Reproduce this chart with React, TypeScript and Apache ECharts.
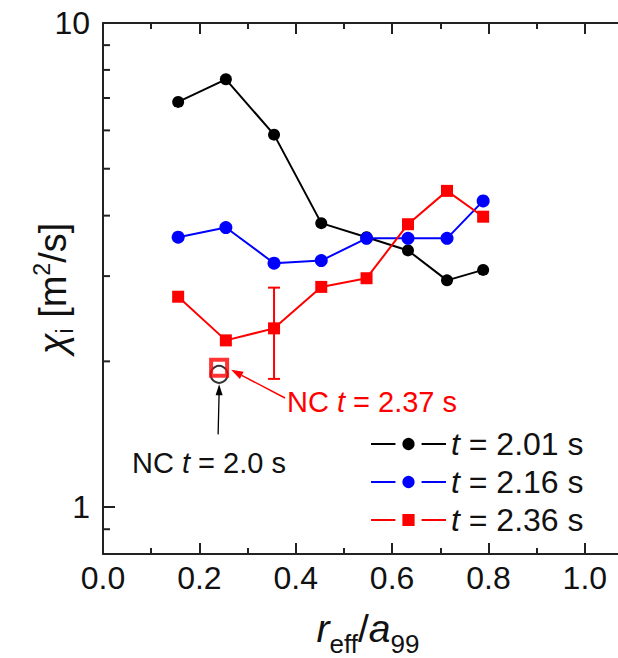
import { useEffect, useRef } from 'react';
import * as echarts from 'echarts';

const rPositions = [0.156, 0.255, 0.355, 0.453, 0.547, 0.633, 0.714, 0.789];
const chiT201 = [6.87, 7.65, 5.88, 3.86, 3.61, 3.39, 2.94, 3.09];
const chiT216 = [3.61, 3.78, 3.19, 3.23, 3.59, 3.59, 3.59, 4.29];
const chiT236 = [2.72, 2.21, 2.34, 2.85, 2.97, 3.84, 4.5, 3.98];
const seriesNames = ['t = 2.01 s', 't = 2.16 s', 't = 2.36 s'];
const seriesColors = ['#000000', '#0000ff', '#ff0000'];
const errorBar = [[0.355, 1.84, 2.84]];
const ncT20 = [[0.241, 1.88]];
const ncT237 = [[0.241, 1.94]];
const yMinorTickValues = [0.9, 2, 3, 4, 5, 6, 7, 8, 9];

const FONT = 'Liberation Sans, Arial, sans-serif';
const FS = 32;
const FT = 32;
const FN = 29;
const AXIS = '#222222';

export default function App() {
  const ref = useRef<HTMLDivElement>(null);
  useEffect(() => {
    const chart = echarts.init(ref.current!, undefined, { renderer: 'svg' });
    const seriesData = [chiT201, chiT216, chiT236];
    const lineSeries = seriesData.map((vals, i) => ({
      name: seriesNames[i],
      type: 'line',
      data: vals.map((v, j) => [rPositions[j], v]),
      symbol: i === 2 ? 'rect' : 'circle',
      symbolSize: i === 1 ? 13 : 12,
      lineStyle: { color: seriesColors[i], width: 2 },
      itemStyle: { color: seriesColors[i] },
      z: 3 + i,
    }));
    const xAxisBase = {
      type: 'value',
      min: 0,
      max: 1.1,
      interval: 0.2,
      axisLine: { show: true, lineStyle: { color: AXIS, width: 2 } },
      axisTick: { show: true, inside: true, length: 11, lineStyle: { color: AXIS, width: 2 } },
      minorTick: { show: true, splitNumber: 2, length: 6, lineStyle: { color: AXIS, width: 2 } },
      splitLine: { show: false },
      minorSplitLine: { show: false },
    };
    chart.setOption({
      animation: false,
      backgroundColor: '#ffffff',
      grid: { left: 103, right: 0, top: 23, bottom: 104, containLabel: false, outerBoundsMode: 'none' },
      legend: {
        data: seriesNames,
        orient: 'vertical',
        left: 365,
        top: 423,
        itemWidth: 75,
        itemHeight: 24,
        itemGap: 6,
        selectedMode: false,
        itemStyle: { borderColor: '#ffffff', borderWidth: 7 },
        formatter: (name: string) => `{i|t}{n|${name.slice(1)}}`,
        textStyle: {
          rich: {
            i: { fontFamily: FONT, fontSize: FT, fontStyle: 'italic', color: '#111', lineHeight: 32 },
            n: { fontFamily: FONT, fontSize: FT, color: '#111', lineHeight: 32 },
          },
        },
      },
      xAxis: [
        {
          ...xAxisBase,
          position: 'bottom',
          name: '{i|r}{s|eff}{n|/}{i|a}{s|99}',
          nameLocation: 'middle',
          nameGap: 55,
          nameMoveOverlap: false,
          nameTextStyle: {
            rich: {
              i: { fontFamily: FONT, fontSize: 39, fontStyle: 'italic', color: '#111', verticalAlign: 'top', lineHeight: 48 },
              n: { fontFamily: FONT, fontSize: 39, color: '#111', verticalAlign: 'top', lineHeight: 48 },
              s: { fontFamily: FONT, fontSize: 26, color: '#111', verticalAlign: 'bottom', lineHeight: 48 },
            },
          },
          axisLabel: {
            show: true,
            showMaxLabel: false,
            margin: 8,
            fontFamily: FONT,
            fontSize: FS,
            color: '#111',
            formatter: (v: number) => v.toFixed(1),
          },
        },
        {
          ...xAxisBase,
          position: 'top',
          axisLabel: { show: false },
        },
      ],
      yAxis: {
        type: 'log',
        logBase: 10,
        min: 0.8,
        max: 10,
        axisLine: { show: true, lineStyle: { color: AXIS, width: 2 } },
        axisTick: { show: true, inside: true, length: 12, lineStyle: { color: AXIS, width: 2 } },
        splitLine: { show: false },
        axisLabel: {
          showMinLabel: false,
          margin: 13,
          fontFamily: FONT,
          fontSize: FS,
          color: '#111',
        },
        name: '{c|χ}{s|i}{n| [m}{p|2}{n|/s]}',
        nameLocation: 'middle',
        nameRotate: 90,
        nameGap: 27,
        nameMoveOverlap: false,
        nameTextStyle: {
          rich: {
            c: { fontFamily: FONT, fontSize: 38, fontStyle: 'italic', color: '#111', verticalAlign: 'middle', lineHeight: 46 },
            n: { fontFamily: FONT, fontSize: 38, color: '#111', verticalAlign: 'middle', lineHeight: 46 },
            s: { fontFamily: FONT, fontSize: 23, color: '#111', verticalAlign: 'bottom', lineHeight: 46 },
            p: { fontFamily: FONT, fontSize: 23, color: '#111', verticalAlign: 'top', lineHeight: 46 },
          },
        },
      },
      series: [
        ...lineSeries,
        {
          type: 'custom',
          name: 'errorbar',
          data: errorBar,
          encode: { x: 0, y: [1, 2] },
          z: 6,
          renderItem: (params: any, api: any) => {
            const lo = api.coord([api.value(0), api.value(1)]);
            const hi = api.coord([api.value(0), api.value(2)]);
            const w = 6;
            const st = { stroke: '#ff0000', lineWidth: 2 };
            return {
              type: 'group',
              children: [
                { type: 'line', shape: { x1: lo[0], y1: lo[1], x2: hi[0], y2: hi[1] }, style: st },
                { type: 'line', shape: { x1: lo[0] - w, y1: lo[1], x2: lo[0] + w, y2: lo[1] }, style: st },
                { type: 'line', shape: { x1: hi[0] - w, y1: hi[1], x2: hi[0] + w, y2: hi[1] }, style: st },
              ],
            };
          },
        },
        {
          type: 'scatter',
          name: 'NC t = 2.0 s',
          data: ncT20,
          symbol: 'circle',
          symbolSize: 17,
          itemStyle: { color: 'rgba(0,0,0,0)', borderColor: '#000', borderWidth: 2 },
          z: 7,
        },
        {
          type: 'scatter',
          name: 'NC t = 2.37 s',
          data: ncT237,
          symbol: 'rect',
          symbolSize: 16,
          itemStyle: { color: 'rgba(0,0,0,0)', borderColor: '#ff0000', borderWidth: 4 },
          z: 8,
        },
      ],
    });

    const yTicks = yMinorTickValues.map((v) => {
      const p = chart.convertToPixel({ xAxisIndex: 0, yAxisIndex: 0 } as any, [0, v]) as number[];
      return {
        type: 'line',
        shape: { x1: p[0], y1: p[1], x2: p[0] + 7, y2: p[1] },
        style: { stroke: AXIS, lineWidth: 2 },
        z: 10,
      };
    });
    const circ = chart.convertToPixel({ xAxisIndex: 0, yAxisIndex: 0 } as any, ncT20[0]) as number[];
    const sq = chart.convertToPixel({ xAxisIndex: 0, yAxisIndex: 0 } as any, ncT237[0]) as number[];
    const bTipY = circ[1] + 10;
    const blackArrow = [
      { type: 'line', shape: { x1: circ[0] - 1, y1: bTipY + 50, x2: circ[0], y2: bTipY + 8 }, style: { stroke: '#000', lineWidth: 1.3 } },
      { type: 'polygon', shape: { points: [[circ[0], bTipY], [circ[0] - 3.5, bTipY + 11], [circ[0] + 3.5, bTipY + 11]] }, style: { fill: '#000' } },
    ];
    const tip = [sq[0] + 12, sq[1] + 2];
    const start = [285, 398];
    const dx = start[0] - tip[0];
    const dy = start[1] - tip[1];
    const len = Math.sqrt(dx * dx + dy * dy);
    const ux = dx / len;
    const uy = dy / len;
    const bx = tip[0] + ux * 12;
    const by = tip[1] + uy * 12;
    const redArrow = [
      { type: 'line', shape: { x1: start[0], y1: start[1], x2: bx, y2: by }, style: { stroke: '#ff0000', lineWidth: 1.5 } },
      { type: 'polygon', shape: { points: [tip, [bx - uy * 4, by + ux * 4], [bx + uy * 4, by - ux * 4]] }, style: { fill: '#ff0000' } },
    ];
    chart.setOption({
      graphic: [
        ...yTicks,
        ...blackArrow,
        ...redArrow,
        {
          type: 'text',
          left: 287,
          top: 387,
          style: {
            text: '{n|NC }{i|t}{n| = 2.37 s}',
            rich: {
              n: { fontFamily: FONT, fontSize: FN, fill: '#ff0000' },
              i: { fontFamily: FONT, fontSize: FN, fontStyle: 'italic', fill: '#ff0000' },
            },
          },
        },
        {
          type: 'text',
          left: 132,
          top: 448,
          style: {
            text: '{n|NC }{i|t}{n| = 2.0 s}',
            rich: {
              n: { fontFamily: FONT, fontSize: FN, fill: '#111' },
              i: { fontFamily: FONT, fontSize: FN, fontStyle: 'italic', fill: '#111' },
            },
          },
        },
      ],
    });
    return () => chart.dispose();
  }, []);
  return (
    <div style={{ position: 'fixed', left: 0, top: 0, width: 618, height: 658, overflow: 'hidden', background: '#fff' }}>
      <div ref={ref} style={{ width: 633, height: 658 }} />
    </div>
  );
}
